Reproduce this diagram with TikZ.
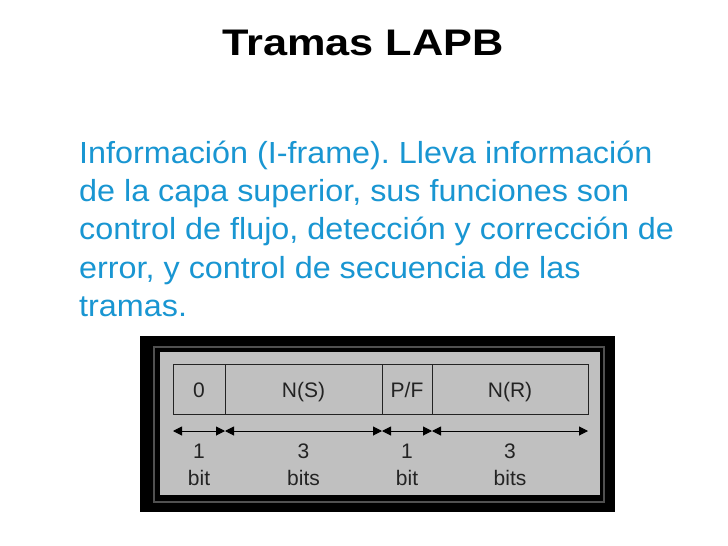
\documentclass[tikz,border=0pt]{standalone}
\usepackage{fontspec}
\setmainfont{Liberation Sans}
\usetikzlibrary{arrows.meta}
\definecolor{bodyblue}{RGB}{25,150,210}
\definecolor{panelgray}{RGB}{192,192,192}
\definecolor{rimgray}{RGB}{80,80,80}
\definecolor{inkgray}{RGB}{35,35,35}
\frenchspacing
\begin{document}
\begin{tikzpicture}[x=1pt,y=-1pt,
  bodyline/.style={anchor=base west, inner sep=0pt, text=bodyblue, font=\fontsize{30.5}{36}\selectfont},
  fieldbox/.style={draw=inkgray, line width=1pt, minimum height=50pt, inner sep=0pt, text height=19pt, text depth=2pt, text=inkgray, font=\fontsize{21}{24}\selectfont},
  lbl/.style={anchor=base, inner sep=0pt, text=inkgray, font=\fontsize{21}{24}\selectfont},
  dimarrow/.style={draw=black, line width=1pt, {Triangle[length=9pt,width=9pt]}-{Triangle[length=9pt,width=9pt]}}
]
\useasboundingbox (0,0) rectangle (728,546);
\fill[white] (0,0) rectangle (728,546);
% title
\node[anchor=base, inner sep=0pt, font=\bfseries\fontsize{37}{40}\selectfont] (title) at (363,55.5) {\scalebox{1.17}[1]{Tramas LAPB}};
% body text
\node[bodyline] (l1) at (79,163.3) {\scalebox{1.06}[1]{Información (I-frame). Lleva información}};
\node[bodyline] (l2) at (79,201.6) {\scalebox{1.06}[1]{de la capa superior, sus funciones son}};
\node[bodyline] (l3) at (79,239.9) {\scalebox{1.06}[1]{control de flujo, detección y corrección de}};
\node[bodyline] (l4) at (79,278.2) {\scalebox{1.06}[1]{error, y control de secuencia de las}};
\node[bodyline] (l5) at (79,316.5) {\scalebox{1.06}[1]{tramas.}};
% panel
\fill[black] (140,336) rectangle (615,512);
\draw[rimgray, line width=1.5pt] (154,347) rectangle (604,502);
\fill[panelgray] (160,352) rectangle (600,495);
% fields
\node[fieldbox, minimum width=52pt] (f0) at (199,389) {0};
\node[fieldbox, minimum width=157pt] (fns) at (303.5,389) {N(S)};
\node[fieldbox, minimum width=50pt] (fpf) at (407,389) {P/F};
\node[fieldbox, minimum width=156pt] (fnr) at (510,389) {N(R)};
% dimension arrows
\coordinate (a0) at (173,431);
\coordinate (a1) at (225,431);
\coordinate (a2) at (382,431);
\coordinate (a3) at (432,431);
\coordinate (a4) at (588,431);
\draw[dimarrow] (a0) -- (a1);
\draw[dimarrow] (a1) -- (a2);
\draw[dimarrow] (a2) -- (a3);
\draw[dimarrow] (a3) -- (a4);
% labels
\node[lbl] (n0) at (199,458) {1};
\node[lbl] (b0) at (199,485) {bit};
\node[lbl] (n1) at (303.5,458) {3};
\node[lbl] (b1) at (303.5,485) {bits};
\node[lbl] (n2) at (407,458) {1};
\node[lbl] (b2) at (407,485) {bit};
\node[lbl] (n3) at (510,458) {3};
\node[lbl] (b3) at (510,485) {bits};
\end{tikzpicture}
\end{document}
